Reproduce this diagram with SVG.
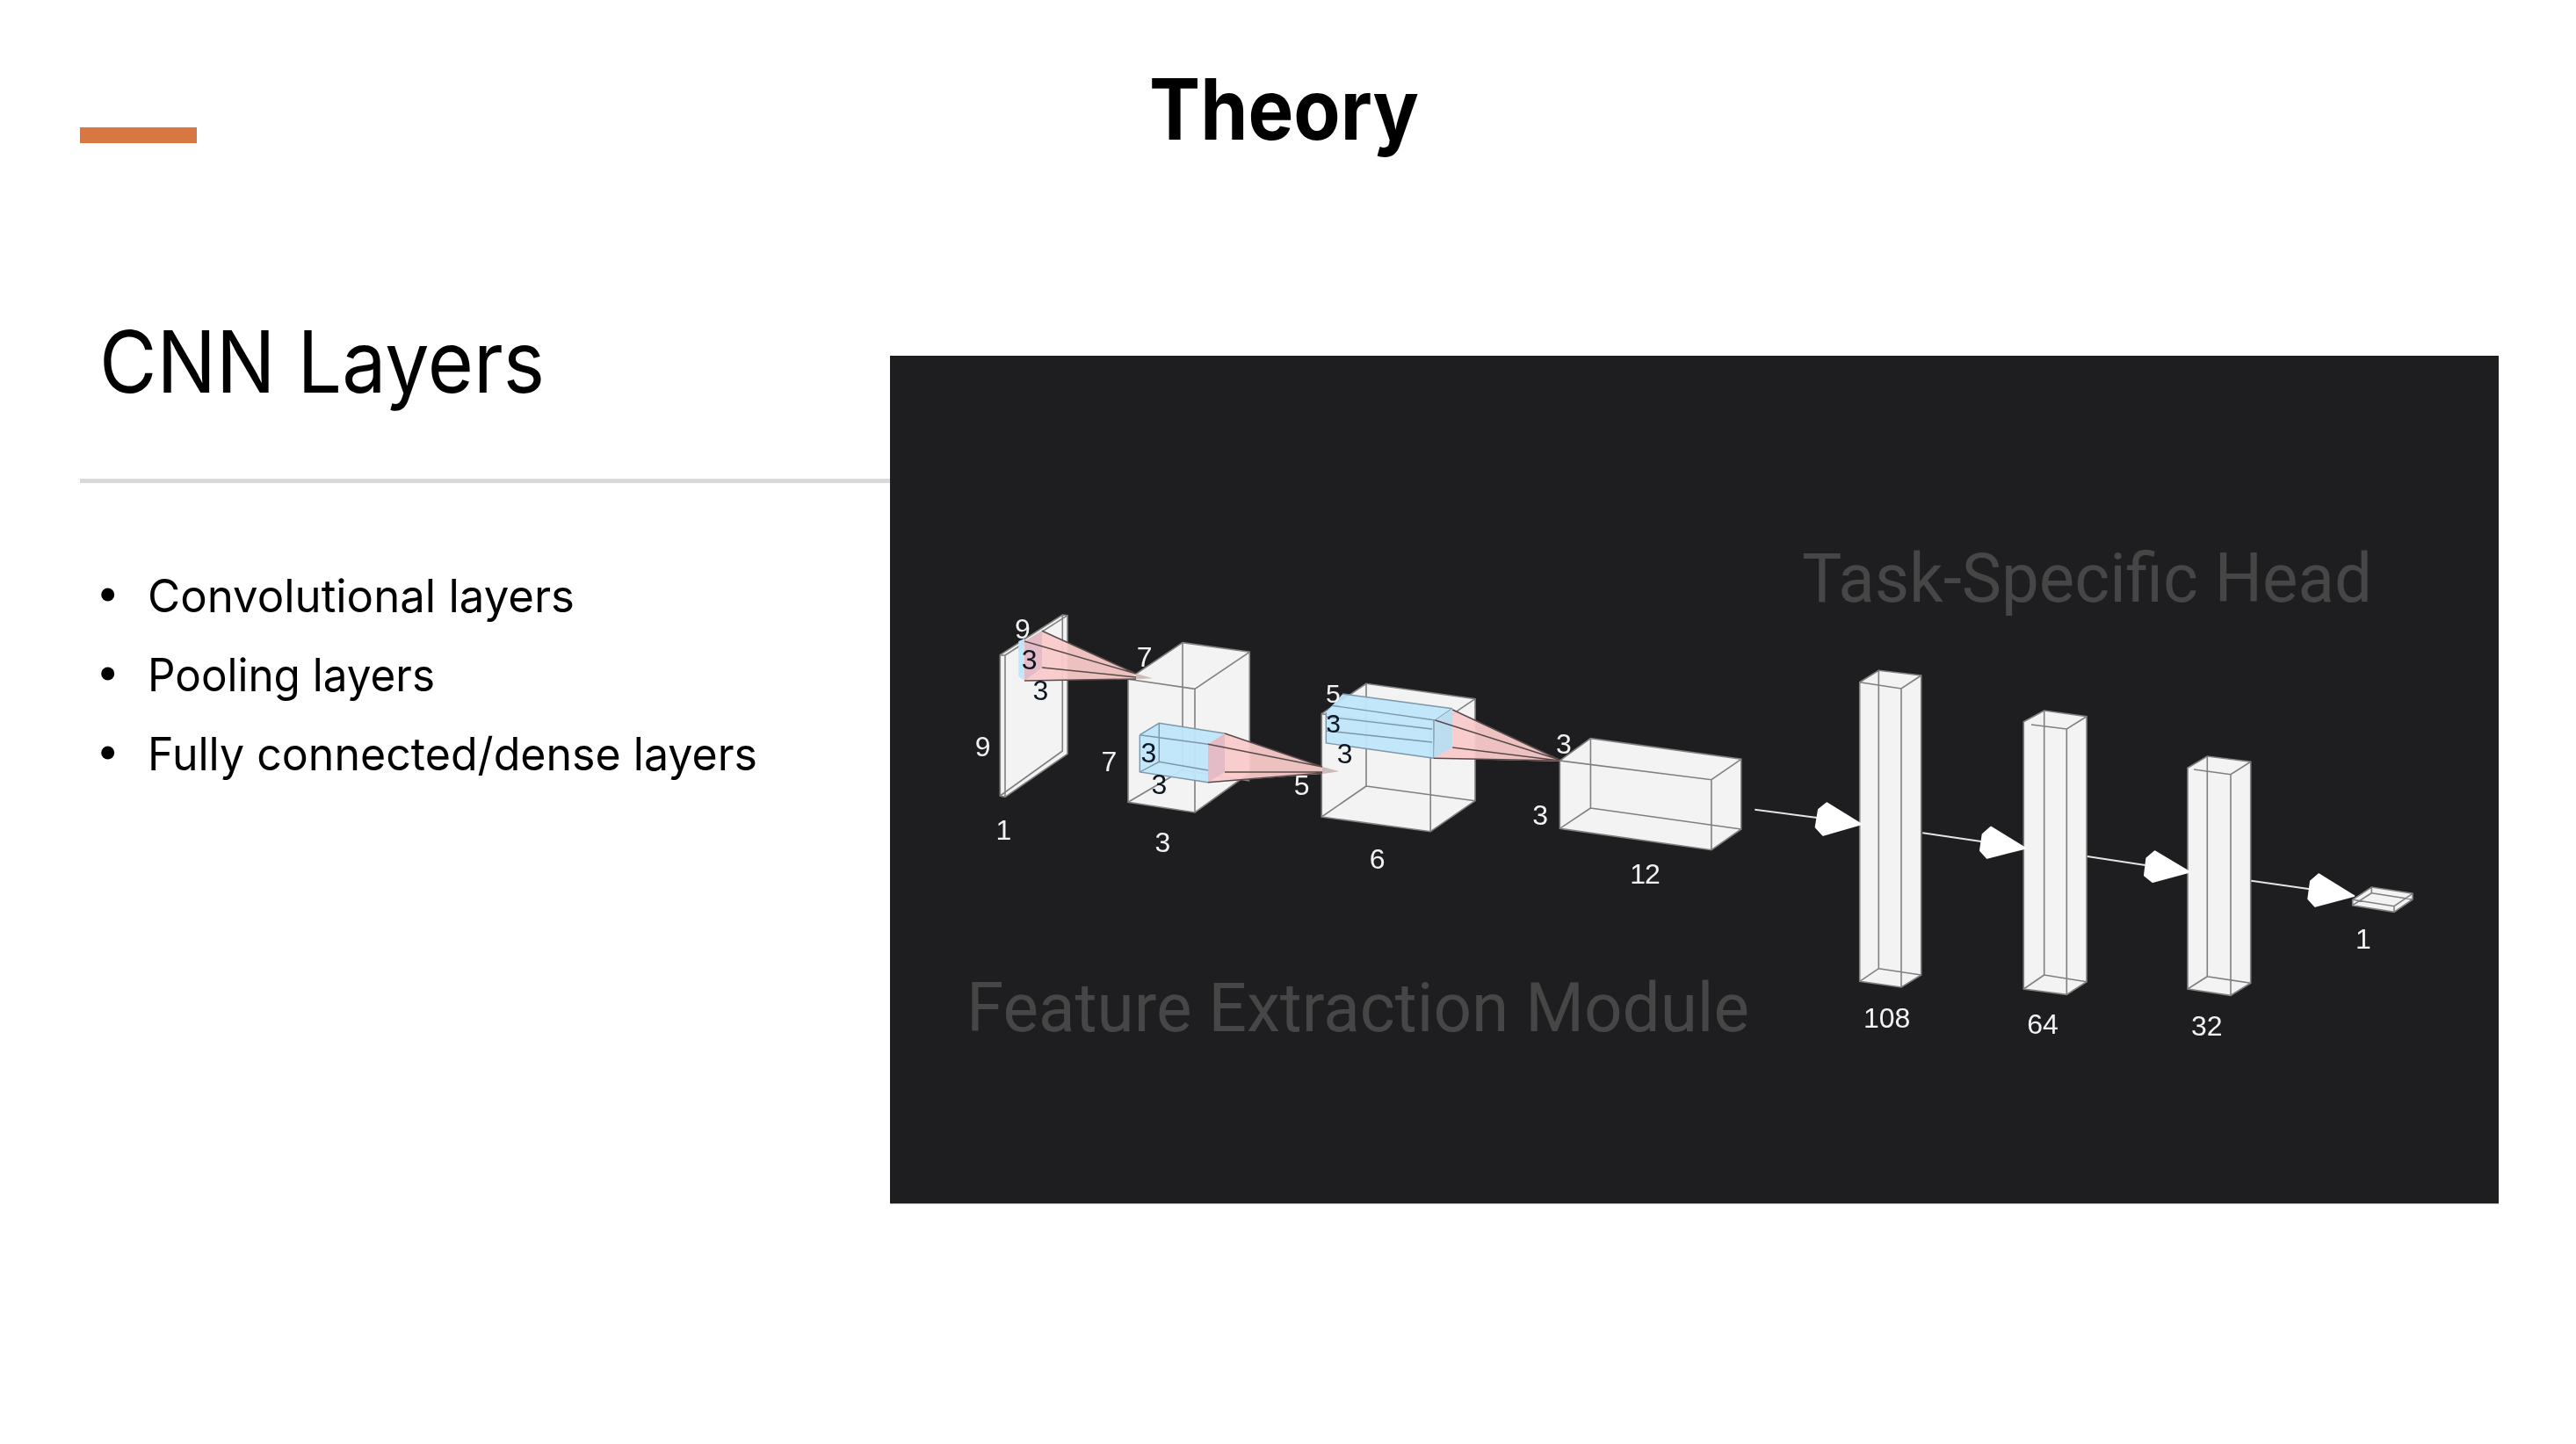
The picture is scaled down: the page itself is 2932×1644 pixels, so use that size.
<svg xmlns="http://www.w3.org/2000/svg" width="2932" height="1644" viewBox="0 0 2932 1644">
<style>
.f{fill:#f3f3f3;stroke:none}
.e{fill:none;stroke:#808080;stroke-width:1.6}
.b{fill:#bfe6fb;fill-opacity:.95;stroke:none}
.be{fill:none;stroke:#7d97a6;stroke-width:1.4}
.r{fill:#f9caca;fill-opacity:.95;stroke:none}
.rf{fill:#e4bcc8;stroke:none}
.re{fill:none;stroke:#5a4a4a;stroke-width:1.5}
.w{font-family:"Liberation Sans",Arial,sans-serif;font-size:32px;fill:#f2f2f2;text-anchor:middle}
.d{font-family:"Liberation Sans",Arial,sans-serif;font-size:32px;fill:#0c1620;text-anchor:middle}
.faint{font-family:Roboto,"Liberation Sans",sans-serif;font-size:78px;fill:#464646}
.a{fill:none;stroke:#e4e4e4;stroke-width:2}
.h{fill:#fff;stroke:#fff;stroke-width:2;stroke-linejoin:round}
.bt{font-family:Inter,"Liberation Sans",sans-serif;font-size:52px;fill:#000}
</style>
<defs><filter id="soft" x="-2%" y="-2%" width="104%" height="104%"><feGaussianBlur stdDeviation="0.5"/></filter></defs>
<rect id="background" width="2932" height="1644" fill="#fff"/>
<rect id="accent" x="91" y="145" width="133" height="18" fill="#d97742"/>
<text id="title" x="1308" y="159" font-family="Inter,'Liberation Sans',sans-serif" font-size="96" font-weight="700" fill="#000" textLength="307" lengthAdjust="spacingAndGlyphs">Theory</text>
<text id="subtitle" x="113" y="447" font-family="Inter,'Liberation Sans',sans-serif" font-size="98" fill="#000" textLength="507" lengthAdjust="spacingAndGlyphs">CNN Layers</text>
<rect id="divider" x="91" y="545" width="922" height="5" fill="#d9d9d9"/>
<g id="bullets">
<circle cx="122.7" cy="677" r="7.5"/><text class="bt" x="168" y="697" textLength="486" lengthAdjust="spacingAndGlyphs">Convolutional layers</text>
<circle cx="122.7" cy="767" r="7.5"/><text class="bt" x="168" y="787" textLength="327" lengthAdjust="spacingAndGlyphs">Pooling layers</text>
<circle cx="122.7" cy="857" r="7.5"/><text class="bt" x="168" y="877" textLength="694" lengthAdjust="spacingAndGlyphs">Fully connected/dense layers</text>
</g>
<rect id="panel" x="1013" y="405" width="1831" height="965" fill="#1e1e20"/>
<rect id="panel-edge" x="1013" y="1370" width="1831" height="1" fill="#bdbdbd"/>
<text id="label-head" class="faint" x="2051" y="685" textLength="649" lengthAdjust="spacingAndGlyphs">Task-Specific Head</text>
<text id="label-feature" class="faint" x="1100" y="1174" textLength="891" lengthAdjust="spacingAndGlyphs">Feature Extraction Module</text>

<g id="network" filter="url(#soft)">
<g id="layer-input">
<polygon class="f" points="1138.3,745.7 1209.3,700 1215,700.7 1215,858.3 1144,907.3 1138.3,906"/>
<path class="e" d="M1138.3,745.7L1209.3,700L1215,700.7V858.3L1144,907.3L1138.3,906ZM1144,746V907.3M1144,746L1215,700.7M1209.3,700V855L1138.3,906M1138.3,745.7L1144,746"/>
<text class="w" x="1118.7" y="861">9</text><text class="w" x="1142.3" y="956">1</text><text class="w" x="1164" y="727">9</text>
</g>
<g id="layer-conv1">
<polygon class="f" points="1284,773.3 1346,731.7 1422.3,742.3 1422.3,880 1360,925 1284,913.3"/>
<path class="e" d="M1284,773.3L1346,731.7L1422.3,742.3V880L1360,925L1284,913.3ZM1284,773.3L1360,784.3L1422.3,742.3M1360,784.3V925M1346,731.7V876.7L1284,913.3M1346,876.7L1422.3,889"/>
<text class="w" x="1323.3" y="970">3</text><text class="w" x="1262.3" y="878">7</text><text class="w" x="1302.7" y="759">7</text>
</g>
<g id="layer-conv2">
<polygon class="f" points="1504.3,812.7 1555,778.3 1679,795.7 1679,911.7 1628.2,946.7 1504.3,930"/>
<path class="e" d="M1504.3,812.7L1555,778.3L1679,795.7V911.7L1628.2,946.7L1504.3,930ZM1504.3,812.7L1628.2,830L1679,795.7M1628.2,830V946.7M1555,778.3V895L1504.3,930M1555,895L1679,911.7"/>
<text class="w" x="1567.7" y="989">6</text><text class="w" x="1481.7" y="905">5</text>
</g>
<g id="layer-conv3">
<polygon class="f" points="1775.4,866 1810.4,840.7 1981.8,864.3 1981.8,944 1947.9,967.7 1775.4,943.3"/>
<path class="e" d="M1775.4,866L1810.4,840.7L1981.8,864.3V944L1947.9,967.7L1775.4,943.3ZM1775.4,866L1947.9,887.7L1981.8,864.3M1947.9,887.7V967.7M1810.4,840.7V920L1775.4,943.3M1810.4,920L1981.8,944"/>
<text class="w" x="1872" y="1006" letter-spacing="-1">12</text><text class="w" x="1753.2" y="939">3</text><text class="w" x="1780" y="858">3</text>
</g>
<g id="layer-dense108">
<polygon class="f" points="2116.7,776.7 2138.3,763.3 2186.7,769 2186.7,1110 2164,1124 2116.7,1117.3"/>
<path class="e" d="M2116.7,776.7L2138.3,763.3L2186.7,769V1110L2164,1124L2116.7,1117.3ZM2116.7,776.7L2164,784L2186.7,769M2164,784V1124M2138.3,763.3V1102.7L2116.7,1117.3M2138.3,1102.7L2186.7,1110"/>
<text class="w" x="2147.7" y="1170">108</text>
</g>
<g id="layer-dense64">
<polygon class="f" points="2303.3,821.7 2326.7,809 2375,815.7 2375,1117.7 2352.3,1132.3 2303.3,1126"/>
<path class="e" d="M2303.3,821.7L2326.7,809L2375,815.7V1117.7L2352.3,1132.3L2303.3,1126ZM2312,825L2352.3,830L2375,815.7M2352.3,830V1132.3M2326.7,809V1110L2303.3,1126M2326.7,1110L2375,1117.7"/>
<text class="w" x="2325" y="1177">64</text>
</g>
<g id="layer-dense32">
<polygon class="f" points="2490,874.3 2512.3,861 2561.7,867.3 2561.7,1119.3 2539,1133.3 2490,1126"/>
<path class="e" d="M2490,874.3L2512.3,861L2561.7,867.3V1119.3L2539,1133.3L2490,1126ZM2497,876L2539,881.7L2561.7,867.3M2539,881.7V1133.3M2512.3,861V1111.7L2490,1126M2512.3,1111.7L2561.7,1119.3"/>
<text class="w" x="2511.7" y="1179">32</text>
</g>
<g id="layer-output">
<polygon class="f" points="2677.7,1024.3 2699.3,1010 2746,1017.3 2746,1024 2725,1038.3 2677.7,1030.7"/>
<path class="e" d="M2677.7,1024.3L2699.3,1010L2746,1017.3V1024L2725,1038.3L2677.7,1030.7ZM2677.7,1024.3L2725,1031.7L2746,1017.3M2725,1031.7V1038.3M2699.3,1010V1016.7L2677.7,1030.7M2699.3,1016.7L2746,1024"/>
<text class="w" x="2690" y="1080">1</text>
</g>

<g id="kernel-1">
<polygon class="b" points="1159.3,730 1166,727 1166,775 1159.3,770"/>
<polygon class="r" points="1186,718.3 1293,767 1311.7,772.3 1293,773 1166,775 1166,730"/>
<polygon class="rf" points="1166,730 1186,718.3 1186,760 1166,775"/>
<path class="re" d="M1166,730L1293,767M1186,718.3L1293,767M1186,760L1293,771M1166,775L1293,773"/>
<path d="M1293,767L1311.7,772.3L1293,773" fill="#c9bcbc"/>
<text class="d" x="1171.7" y="762">3</text><text class="d" x="1184.3" y="797">3</text>
</g>
<g id="kernel-2">
<polygon class="b" points="1297.3,836.7 1319.3,823.3 1394,835 1375,890.7 1297.3,879"/>
<path class="be" d="M1297.3,836.7L1319.3,823.3L1394,835M1297.3,836.7L1375,847.3M1297.3,836.7V879L1375,890.7M1297.3,879L1319.3,867.3L1375,877M1319.3,823.3V867.3"/>
<polygon class="r" points="1394,835 1505,873 1524,878.3 1505,881 1375,890.7 1375,847.3"/>
<polygon class="rf" points="1375,847.3 1394,835 1394,879 1375,890.7"/>
<path class="re" d="M1375,847.3L1505,873M1394,835L1505,873M1394,879L1505,879M1375,890.7L1505,880"/>
<path d="M1505,873L1524,878.3L1505,881" fill="#c9bcbc"/>
<text class="d" x="1307.3" y="868">3</text><text class="d" x="1319.3" y="904">3</text>
</g>
<g id="kernel-3">
<polygon class="b" points="1509.3,811 1528.2,790 1653.2,806.7 1653.2,851 1632,863.3 1509.3,846"/>
<path class="be" d="M1516,803.3L1633.6,820L1653.2,806.7M1528.2,790L1653.2,806.7M1510,816L1630,830M1510,832L1630,845M1509.3,811V846L1632,863.3M1632,820V863.3"/>
<polygon class="r" points="1653.2,808 1775,865 1775,867 1632,863.3 1653.2,851"/>
<polygon points="1633.6,820 1653.2,806.7 1653.2,851 1632,863.3" fill="#bcdcf0"/>
<path class="re" d="M1633.6,820L1775,865M1653.2,808L1775,865M1653.2,851L1775,866M1632,863.3L1775,866"/>
<text class="w" x="1517.3" y="800" style="font-size:30px">5</text><text class="d" x="1517.7" y="833.5" style="font-size:30px">3</text><text class="d" x="1530.7" y="869">3</text>
</g>

<g id="connectors">
<path class="a" d="M1997.3,921.7L2068.3,931"/><polygon class="h" points="2079.3,914.3 2118.3,938.3 2075,950.7 2066.7,941.7 2070,921.7"/>
<path class="a" d="M2188.3,948.3L2256.7,958.3"/><polygon class="h" points="2266,941.7 2305,965.7 2261.7,976.7 2254,968.3 2256.7,950"/>
<path class="a" d="M2375.7,975L2441.7,985"/><polygon class="h" points="2452.7,969.3 2491.7,992.7 2450,1004 2441,996.7 2443.3,977.3"/>
<path class="a" d="M2562.3,1002.7L2629.3,1012.3"/><polygon class="h" points="2639.3,995.3 2679.3,1020 2635,1031.7 2627.3,1023.3 2630,1003.3"/>
</g>
</g>
</svg>
